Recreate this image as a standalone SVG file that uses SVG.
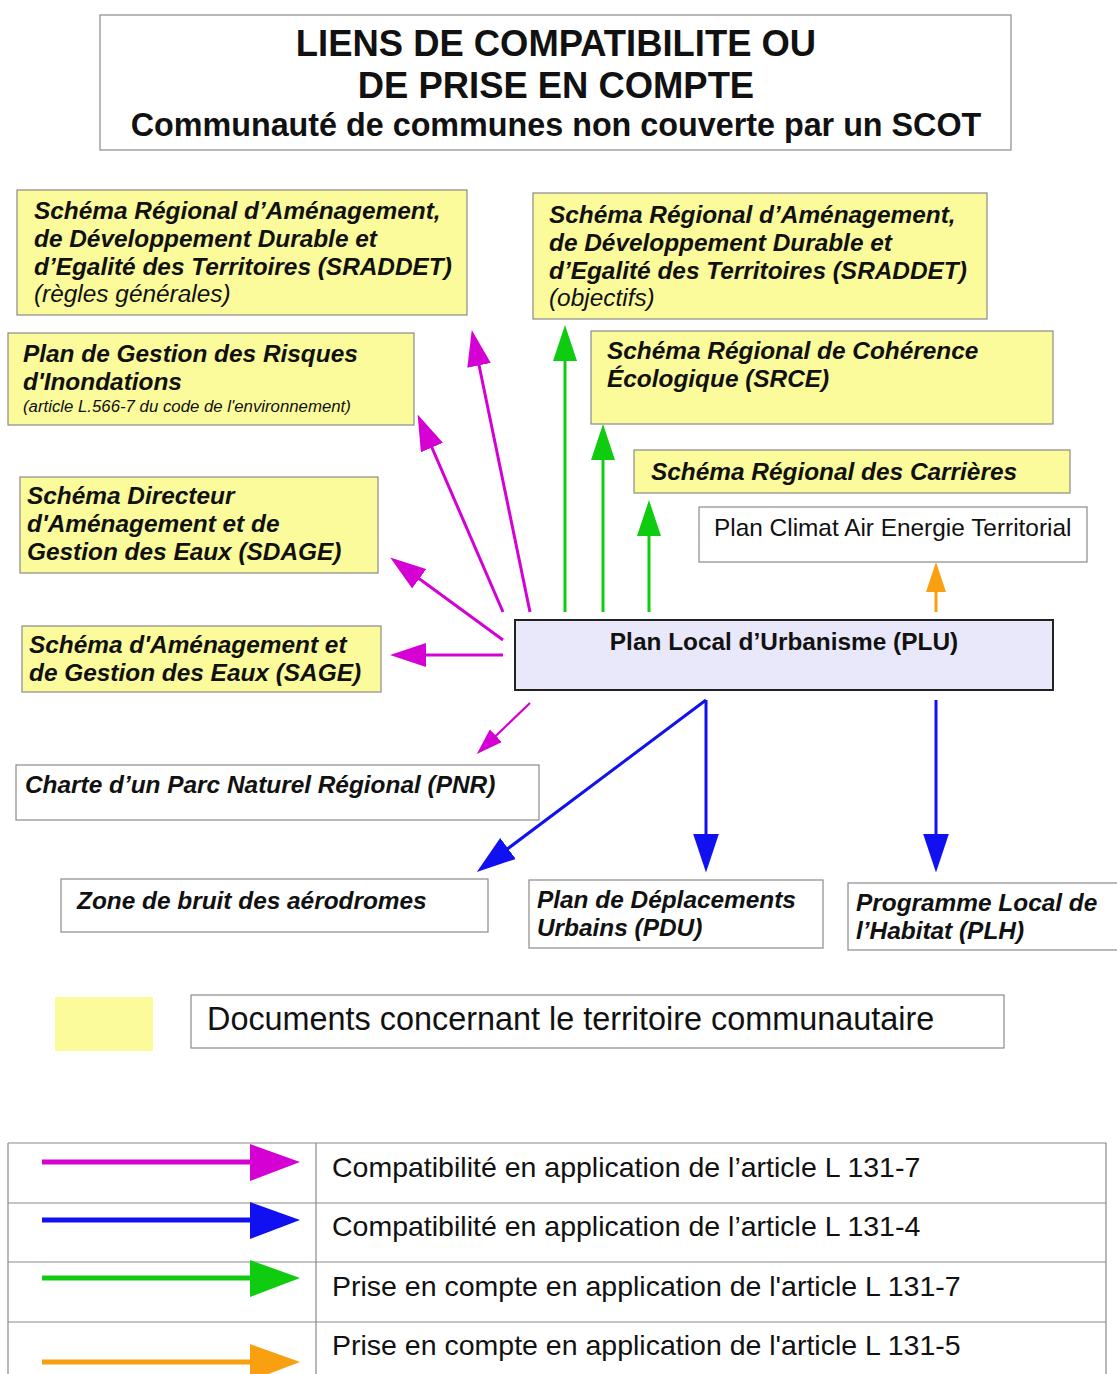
<svg xmlns="http://www.w3.org/2000/svg" width="1117" height="1374" viewBox="0 0 1117 1374">
<style>
text{font-family:"Liberation Sans",Arial,sans-serif;fill:#111}
.n{font-size:24.4px;font-weight:bold;font-style:italic}
.ni{font-size:24.4px;font-style:italic}
.r{font-size:24.4px}
.y{fill:#fbfb9c;stroke:#8a8a8a;stroke-width:1.2}
.w{fill:#fff;stroke:#8a8a8a;stroke-width:1.2}
.mg{stroke:#d400d4;stroke-width:3;fill:none}
.bl{stroke:#1010f0;stroke-width:3;fill:none}
.gr{stroke:#10cc10;stroke-width:3;fill:none}
.or{stroke:#f8a010;stroke-width:3;fill:none}
.leg{font-size:28.5px}
</style>
<defs>
<marker id="am" viewBox="0 0 12 8" markerWidth="12" markerHeight="8" refX="10" refY="4" orient="auto"><path d="M0,0L12,4L0,8Z" fill="#d400d4"/></marker>
<marker id="ab" viewBox="0 0 12 8" markerWidth="13" markerHeight="9" refX="10" refY="4" orient="auto"><path d="M0,0L12,4L0,8Z" fill="#1010f0"/></marker>
<marker id="ag" viewBox="0 0 12 8" markerWidth="12" markerHeight="8" refX="10" refY="4" orient="auto"><path d="M0,0L12,4L0,8Z" fill="#10cc10"/></marker>
<marker id="ao" viewBox="0 0 12 8" markerWidth="10" markerHeight="7" refX="10" refY="4" orient="auto"><path d="M0,0L12,4L0,8Z" fill="#f8a010"/></marker>
</defs>
<rect width="1117" height="1374" fill="#fff"/>

<g id="title">
<rect x="100" y="15" width="911" height="135" class="w"/>
<text x="556" y="56" text-anchor="middle" style="font-size:36.4px;font-weight:bold">LIENS DE COMPATIBILITE OU</text>
<text x="556" y="98" text-anchor="middle" style="font-size:36.4px;font-weight:bold">DE PRISE EN COMPTE</text>
<text x="556" y="136" text-anchor="middle" style="font-size:32.3px;font-weight:bold">Communauté de communes non couverte par un SCOT</text>
</g>

<g id="sraddet-regles">
<rect x="17" y="190" width="450" height="125" class="y"/>
<text x="34" y="219" class="n">Schéma Régional d’Aménagement,</text>
<text x="34" y="247" class="n">de Développement Durable et</text>
<text x="34" y="275" class="n">d’Egalité des Territoires (SRADDET)</text>
<text x="34" y="302" class="ni">(règles générales)</text>
</g>

<g id="sraddet-objectifs">
<rect x="533" y="193" width="454" height="126" class="y"/>
<text x="549" y="223" class="n">Schéma Régional d’Aménagement,</text>
<text x="549" y="251" class="n">de Développement Durable et</text>
<text x="549" y="279" class="n">d’Egalité des Territoires (SRADDET)</text>
<text x="549" y="306" class="ni">(objectifs)</text>
</g>

<g id="pgri">
<rect x="8" y="333" width="406" height="92" class="y"/>
<text x="23" y="362" class="n">Plan de Gestion des Risques</text>
<text x="23" y="390" class="n">d'Inondations</text>
<text x="23" y="412" class="ni" style="font-size:16.8px">(article L.566-7 du code de l'environnement)</text>
</g>

<g id="srce">
<rect x="591" y="331" width="462" height="93" class="y"/>
<text x="607" y="359" class="n">Schéma Régional de Cohérence</text>
<text x="607" y="387" class="n">Écologique (SRCE)</text>
</g>

<g id="sdage">
<rect x="20" y="477" width="358" height="96" class="y"/>
<text x="27" y="504" class="n">Schéma Directeur</text>
<text x="27" y="532" class="n">d'Aménagement et de</text>
<text x="27" y="560" class="n">Gestion des Eaux (SDAGE)</text>
</g>

<g id="carrieres">
<rect x="634" y="450" width="436" height="43" class="y"/>
<text x="651" y="480" class="n">Schéma Régional des Carrières</text>
</g>

<g id="pcaet">
<rect x="699" y="507" width="388" height="55" class="w"/>
<text x="714" y="536" class="r">Plan Climat Air Energie Territorial</text>
</g>

<g id="sage">
<rect x="22" y="626" width="359" height="66" class="y"/>
<text x="29" y="653" class="n">Schéma d'Aménagement et</text>
<text x="29" y="681" class="n">de Gestion des Eaux (SAGE)</text>
</g>

<g id="plu">
<rect x="515" y="620" width="538" height="70" fill="#e8e8fa" stroke="#222" stroke-width="2"/>
<text x="784" y="650" text-anchor="middle" style="font-size:24.4px;font-weight:bold">Plan Local d’Urbanisme (PLU)</text>
</g>

<g id="pnr">
<rect x="16" y="765" width="523" height="55" class="w"/>
<text x="25" y="793" class="n">Charte d’un Parc Naturel Régional (PNR)</text>
</g>

<g id="zone-bruit">
<rect x="61" y="879" width="427" height="53" class="w"/>
<text x="77" y="909" class="n">Zone de bruit des aérodromes</text>
</g>

<g id="pdu">
<rect x="529" y="880" width="294" height="68" class="w"/>
<text x="537" y="908" class="n">Plan de Déplacements</text>
<text x="537" y="936" class="n">Urbains (PDU)</text>
</g>

<g id="plh">
<rect x="848" y="883" width="275" height="67" class="w"/>
<text x="856" y="911" class="n">Programme Local de</text>
<text x="856" y="939" class="n">l’Habitat (PLH)</text>
</g>

<g id="connectors">
<line x1="530" y1="612" x2="473" y2="336" class="mg" marker-end="url(#am)"/>
<line x1="503" y1="612" x2="420" y2="420" class="mg" marker-end="url(#am)"/>
<line x1="503" y1="640" x2="395" y2="561" class="mg" marker-end="url(#am)"/>
<line x1="503" y1="655" x2="396" y2="655" class="mg" marker-end="url(#am)"/>
<line x1="530" y1="703" x2="480" y2="751" class="mg" style="stroke-width:2.2" marker-end="url(#am)"/>
<line x1="565" y1="612" x2="565" y2="331" class="gr" marker-end="url(#ag)"/>
<line x1="603" y1="612" x2="603" y2="430" class="gr" marker-end="url(#ag)"/>
<line x1="649" y1="612" x2="649" y2="506" class="gr" marker-end="url(#ag)"/>
<line x1="936" y1="612" x2="936" y2="567" class="or" marker-end="url(#ao)"/>
<line x1="706" y1="700" x2="482" y2="868" class="bl" marker-end="url(#ab)"/>
<line x1="706" y1="700" x2="706" y2="866" class="bl" marker-end="url(#ab)"/>
<line x1="936" y1="700" x2="936" y2="866" class="bl" marker-end="url(#ab)"/>
</g>

<g id="legend-territoire">
<rect x="55" y="997" width="98" height="54" fill="#fbfb9c"/>
<rect x="191" y="995" width="813" height="53" class="w"/>
<text x="207" y="1030" style="font-size:32.4px">Documents concernant le territoire communautaire</text>
</g>

<g id="legend-table">
<path d="M8,1143H1106V1374M8,1143V1374M8,1203H1106M8,1262H1106M8,1322H1106M316,1143V1374" fill="none" stroke="#8a8a8a" stroke-width="1.2"/>
<line x1="42" y1="1162" x2="252" y2="1162" stroke="#d400d4" stroke-width="5"/>
<path d="M250,1144L300,1162L250,1181Z" fill="#d400d4"/>
<line x1="42" y1="1220" x2="252" y2="1220" stroke="#1010f0" stroke-width="5"/>
<path d="M250,1202L300,1220L250,1239Z" fill="#1010f0"/>
<line x1="42" y1="1278" x2="252" y2="1278" stroke="#10cc10" stroke-width="5"/>
<path d="M250,1260L300,1278L250,1297Z" fill="#10cc10"/>
<line x1="42" y1="1362" x2="252" y2="1362" stroke="#f8a010" stroke-width="5"/>
<path d="M250,1344L300,1362L250,1381Z" fill="#f8a010"/>
<text x="332" y="1177" class="leg">Compatibilité en application de l’article L 131-7</text>
<text x="332" y="1236" class="leg">Compatibilité en application de l’article L 131-4</text>
<text x="332" y="1296" class="leg">Prise en compte en application de l'article L 131-7</text>
<text x="332" y="1355" class="leg">Prise en compte en application de l'article L 131-5</text>
</g>
</svg>
